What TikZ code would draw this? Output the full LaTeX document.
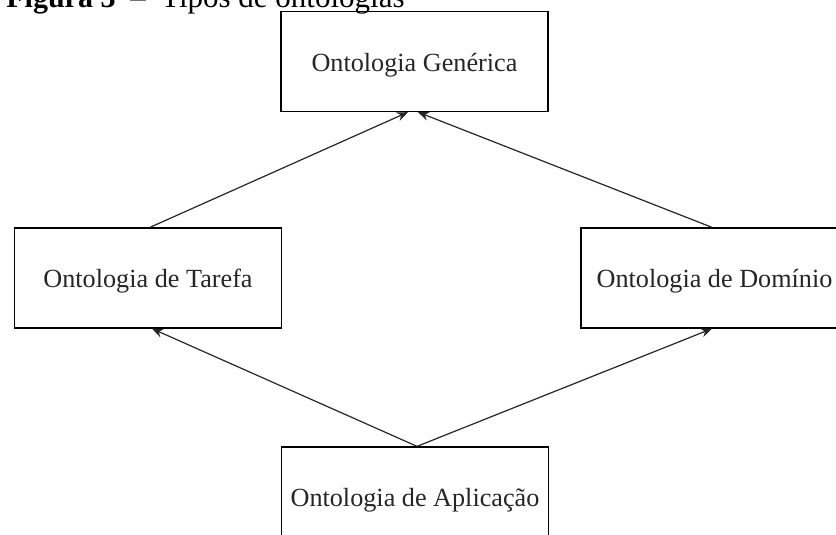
\documentclass[tikz,border=0pt]{standalone}
\usepackage{fontspec}
\setmainfont{Liberation Serif}
\usetikzlibrary{arrows.meta}
\begin{document}
\begin{tikzpicture}[x=0.5pt,y=-0.5pt,
  ontbox/.style={draw=black, line width=0.65pt, minimum width=133.5pt, minimum height=50pt, inner sep=0pt, text height=12.6pt, text depth=2.8pt, font=\fontsize{13.1}{15}\selectfont, text=black!85},
  conn/.style={draw=black!85, line width=0.6pt, -{Stealth[length=5.5pt,width=4.5pt]}}]
\useasboundingbox (0,0) rectangle (836,535);
\fill[white] (0,0) rectangle (836,535);
\clip (0,0) rectangle (836,535);
% title (cut off at top)
\node[anchor=base west, inner sep=0pt, font=\fontsize{15}{18}\selectfont\bfseries] (fig) at (6,7.5) {Figura 3};
\node[anchor=base, inner sep=0pt, font=\fontsize{15.5}{18}\selectfont] (dash) at (138,7.5) {–};
\node[anchor=base east, inner sep=0pt, font=\fontsize{15.5}{18}\selectfont] (tit) at (405,7.5) {Tipos de ontologias};
% boxes
\node[ontbox] (gen) at (414.5,61.5) {Ontologia Genérica};
\node[ontbox] (tar) at (148,278) {Ontologia de Tarefa};
\node[ontbox] (dom) at (714.5,278) {Ontologia de Domínio};
\node[ontbox] (apl) at (415,497) {Ontologia de Aplicação};
% connectors
\draw[conn] ([xshift=1pt]tar.north) -- ([xshift=-3.25pt]gen.south);
\draw[conn] ([xshift=-1.25pt]dom.north) -- ([xshift=1.75pt]gen.south);
\draw[conn] ([xshift=1pt]apl.north) -- ([xshift=2pt]tar.south);
\draw[conn] ([xshift=1pt]apl.north) -- ([xshift=-1.25pt]dom.south);
\end{tikzpicture}
\end{document}
